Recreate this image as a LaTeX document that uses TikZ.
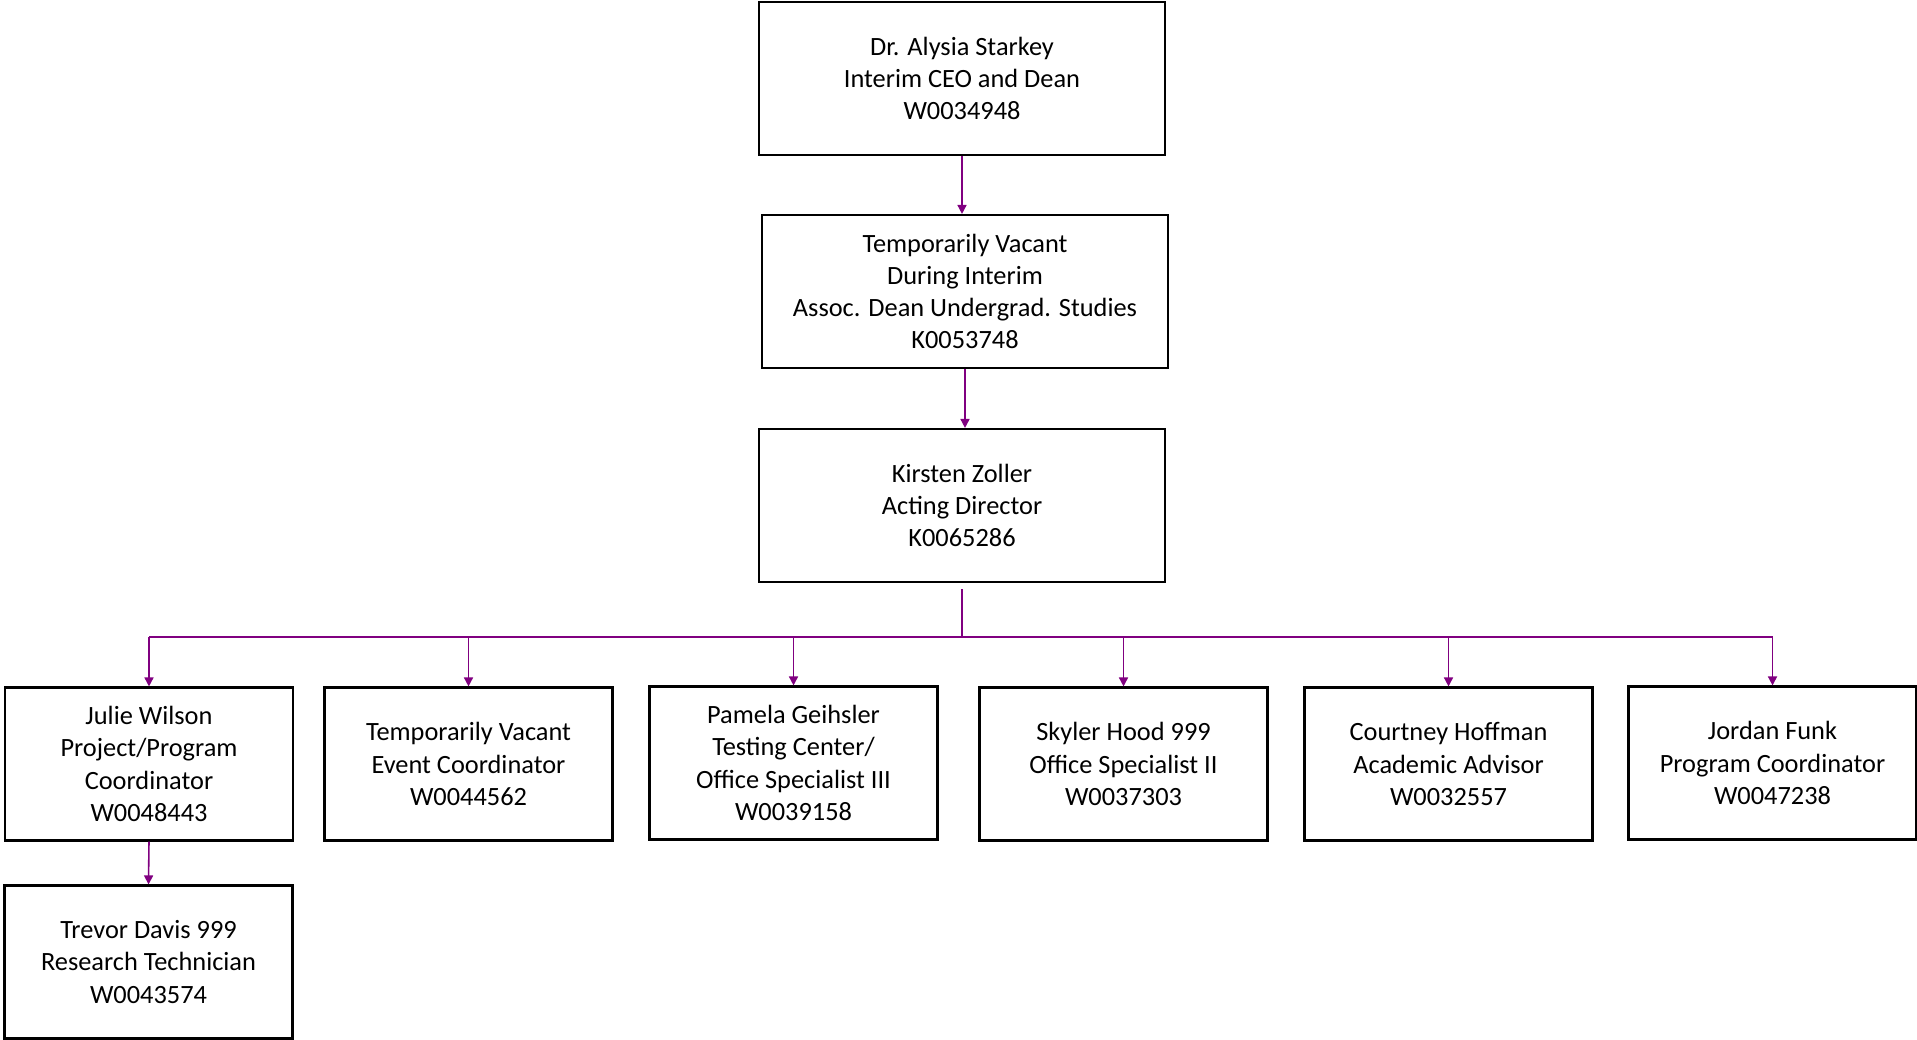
\documentclass[tikz,border=0pt]{standalone}
\usepackage{fontspec}
\setmainfont{Carlito}
\usepackage{tikz}
\usepackage{xcolor}
\usetikzlibrary{arrows.meta}
\definecolor{linkpurple}{HTML}{800080}

\begin{document}
\begin{tikzpicture}[
  box/.style={draw=black,line width=0.6pt,align=center,minimum height=1.53cm,
    font=\fontsize{7.5}{9.15}\selectfont,inner sep=0pt},
  bigbox/.style={box,minimum width=4.06cm},
  smallbox/.style={box,minimum width=2.88cm},
  link/.style={draw=linkpurple,line width=0.45pt},
  arr/.style={link,-{Triangle[length=0.9mm,width=0.9mm]}}]
\useasboundingbox (0,0) rectangle (19.17,-10.40);
% top of the chart
\node[bigbox] (dean) at (9.62,-0.785) {Dr. Alysia Starkey\\Interim CEO and Dean\\W0034948};
\node[bigbox] (assoc) at (9.65,-2.915) {Temporarily Vacant\\During Interim\\Assoc. Dean Undergrad. Studies\\K0053748};
\node[bigbox] (director) at (9.62,-5.055) {Kirsten Zoller\\Acting Director\\K0065286};
% staff row
\node[smallbox] (julie) at (1.49,-7.64) {Julie Wilson\\Project/Program\\Coordinator\\W0048443};
\node[smallbox] (event) at (4.685,-7.64) {Temporarily Vacant\\Event Coordinator\\W0044562};
\node[smallbox] (pamela) at (7.935,-7.63) {Pamela Geihsler\\Testing Center/\\Office Specialist III\\W0039158};
\node[smallbox] (skyler) at (11.235,-7.64) {Skyler Hood 999\\Office Specialist II\\W0037303};
\node[smallbox] (courtney) at (14.485,-7.64) {Courtney Hoffman\\Academic Advisor\\W0032557};
\node[smallbox] (jordan) at (17.725,-7.63) {Jordan Funk\\Program Coordinator\\W0047238};
% under julie
\node[smallbox] (trevor) at (1.485,-9.62) {Trevor Davis 999\\Research Technician\\W0043574};
% connectors
\coordinate (bar) at (9.63,-6.37);
\draw[arr] (dean.south) -- (dean.south |- assoc.north);
\draw[arr] (assoc.south) -- (assoc.south |- director.north);
\draw[link,shorten <=0.6mm] (director.south) -- (director.south |- bar);
\draw[link] (julie.north |- bar) -- (jordan.north |- bar);
\foreach \n in {julie,event,pamela,skyler,courtney,jordan}
  \draw[arr] (\n.north |- bar) -- (\n.north);
\draw[arr] (julie.south) -- (trevor.north);
\end{tikzpicture}
\end{document}
